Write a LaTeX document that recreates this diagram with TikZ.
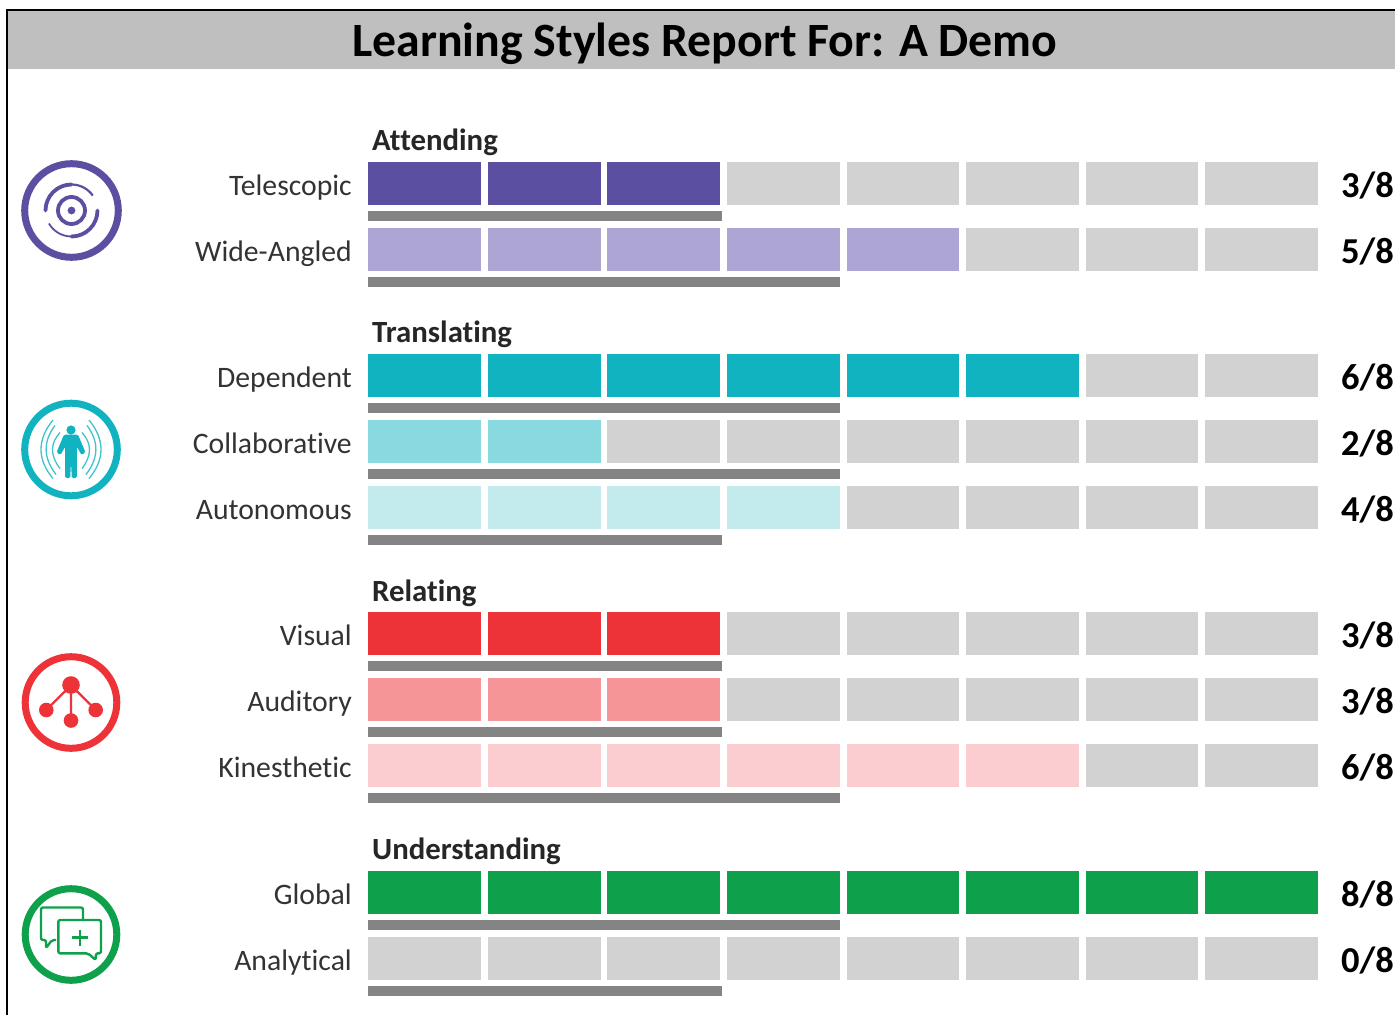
\documentclass[tikz,border=0pt]{standalone}
\usepackage{fontspec}
\setmainfont[RawFeature={-liga;-clig;-dlig;-calt}]{Carlito}
\definecolor{purpA}{HTML}{5B4FA2}
\definecolor{purpB}{HTML}{ADA5D3}
\definecolor{tealA}{HTML}{12B3C1}
\definecolor{tealB}{HTML}{88D9E0}
\definecolor{tealC}{HTML}{C3EAED}
\definecolor{redA}{HTML}{EE3338}
\definecolor{redB}{HTML}{F59597}
\definecolor{redC}{HTML}{FBCCD0}
\definecolor{greenA}{HTML}{0EA04B}
\definecolor{cellgrey}{HTML}{D2D2D2}
\definecolor{bargrey}{HTML}{848484}
\definecolor{titlegrey}{HTML}{BFBFBF}
\definecolor{labelc}{HTML}{333333}
\newcommand{\fs}[1]{\fontsize{#1}{#1}\selectfont}
\tikzset{
  x=1pt,y=-1pt,
  rowlabel/.style={anchor=base east,text=labelc,font=\fs{29.7},inner sep=0},
  grouplabel/.style={anchor=base west,text=black!85,font=\fs{30.8}\bfseries,inner sep=0},
  score/.style={anchor=base west,text=black,font=\fs{36.5}\bfseries,inner sep=0},
  ring/.style={line width=7pt,draw=#1,fill=white},
}
% #1 top y, #2 label, #3 score, #4 filled cells, #5 colour, #6 bar right edge
\newcommand{\rowdraw}[6]{%
  \foreach \l/\r [count=\i] in {368/481,488/601,607/720,727/840,847/959,966/1079,1086/1198,1205/1318}{%
    \ifnum\i>#4\relax\def\cc{cellgrey}\else\def\cc{#5}\fi
    \fill[\cc] (\l,#1) rectangle (\r,#1+43);
  }%
  \fill[bargrey] (368,#1+49) rectangle (#6,#1+59);
  \node[rowlabel] (lab#2) at (352,#1+33) {#2};
  \node[score] (score#2) at (1341,#1+35) {#3};
}
\begin{document}
\begin{tikzpicture}
\useasboundingbox (0,0) rectangle (1395,1015);
\fill[white] (0,0) rectangle (1395,1015);
% frame and title
\fill[titlegrey] (7,10) rectangle (1395,69);
\draw[black,line width=1.2pt] (7,1015) -- (7,10) -- (1395,10);
\node[font=\fs{47.8}\bfseries,text=black,inner sep=0,anchor=base] (title) at (705,56.5) {Learning Styles Report For: A Demo};
% group labels
\node[grouplabel] (attending) at (372,150) {Attending};
\node[grouplabel] (translating) at (372,342) {Translating};
\node[grouplabel] (relating) at (372,601) {Relating};
\node[grouplabel] (understanding) at (372,859) {Understanding};
% rows
\rowdraw{162}{Telescopic}{3/8}{3}{purpA}{722}
\rowdraw{228}{Wide-Angled}{5/8}{5}{purpB}{840}
\rowdraw{354}{Dependent}{6/8}{6}{tealA}{840}
\rowdraw{420}{Collaborative}{2/8}{2}{tealB}{840}
\rowdraw{486}{Autonomous}{4/8}{4}{tealC}{722}
\rowdraw{612}{Visual}{3/8}{3}{redA}{722}
\rowdraw{678}{Auditory}{3/8}{3}{redB}{722}
\rowdraw{744}{Kinesthetic}{6/8}{6}{redC}{840}
\rowdraw{871}{Global}{8/8}{8}{greenA}{840}
\rowdraw{937}{Analytical}{0/8}{0}{cellgrey}{722}
% icon 1: target
\begin{scope}[shift={(71.5,210.5)}]
  \draw[ring=purpA] (0,0) circle (46.8);
  \draw[purpA,line width=3.8pt] (0,0) circle (13.5);
  \fill[purpA] (0,0) circle (3.9);
  \draw[purpA,line width=3.8pt,line cap=round] (-26,0) arc[start angle=180,end angle=270,radius=26];
  \draw[purpA,line width=2.2pt] (0,-26) arc[start angle=270,end angle=325,radius=26];
  \draw[purpA,line width=3.8pt,line cap=round] (26,0) arc[start angle=0,end angle=90,radius=26];
  \draw[purpA,line width=1.8pt] (0,26) arc[start angle=90,end angle=150,radius=26];
\end{scope}
% icon 2: person with waves
\begin{scope}[shift={(71,449.5)}]
  \draw[ring=tealA] (0,0) circle (46.3);
  \fill[tealA] (0,-19.5) circle (4.6);
  \fill[tealA,rounded corners=1.5pt] (-7,-15) -- (7,-15) -- (14.5,3) -- (10.5,5.5) -- (5.8,-3) -- (5.8,28.5) -- (0.6,28.5) -- (0.4,16) -- (-0.4,16) -- (-0.6,28.5) -- (-5.8,28.5) -- (-5.8,-3) -- (-10.5,5.5) -- (-14.5,3) -- cycle;
  \foreach \s in {-1,1}{
    \draw[tealA!80,line width=1.3pt] (\s*11,-17) .. controls (\s*21,-6) and (\s*21,6) .. (\s*11,19);
    \draw[tealA!80,line width=1.3pt] (\s*16,-24) .. controls (\s*28,-8) and (\s*28,8) .. (\s*15,25);
    \draw[tealA!80,line width=1.3pt] (\s*18,-29.5) .. controls (\s*34,-10) and (\s*34,10) .. (\s*18,29);
  }
\end{scope}
% icon 3: tree
\begin{scope}[shift={(71,702.5)}]
  \draw[ring=redA] (0,0) circle (45.8);
  \draw[redA,line width=2.3pt] (0,-17) -- (0,17) (0,-17) -- (-25,7.5) (0,-17) -- (25,7.5);
  \fill[redA] (0,-17.5) circle (8.8) (-24.7,7.5) circle (7.3) (24.7,7.5) circle (7.3) (0,18) circle (7.3);
\end{scope}
% icon 4: speech bubbles
\begin{scope}[shift={(71,934.5)}]
  \draw[ring=greenA] (0,0) circle (45.8);
  \draw[greenA,line width=2.4pt,rounded corners=2pt,line join=round]
    (12,-15) -- (12,-27) -- (-30,-27) -- (-30,5.5) -- (-25,5.5) -- (-25,13.5) -- (-19,5.5) -- (-15,5.5);
  \draw[greenA,line width=2.4pt,rounded corners=2pt,line join=round]
    (-12.7,-14.5) -- (30,-14.5) -- (30,18.8) -- (25,18.8) -- (24.7,25.5) -- (17,18.8) -- (-12.7,18.8) -- cycle;
  \draw[greenA,line width=2.6pt] (9,-5) -- (9,11) (1.3,3) -- (16.7,3);
\end{scope}
\end{tikzpicture}
\end{document}
